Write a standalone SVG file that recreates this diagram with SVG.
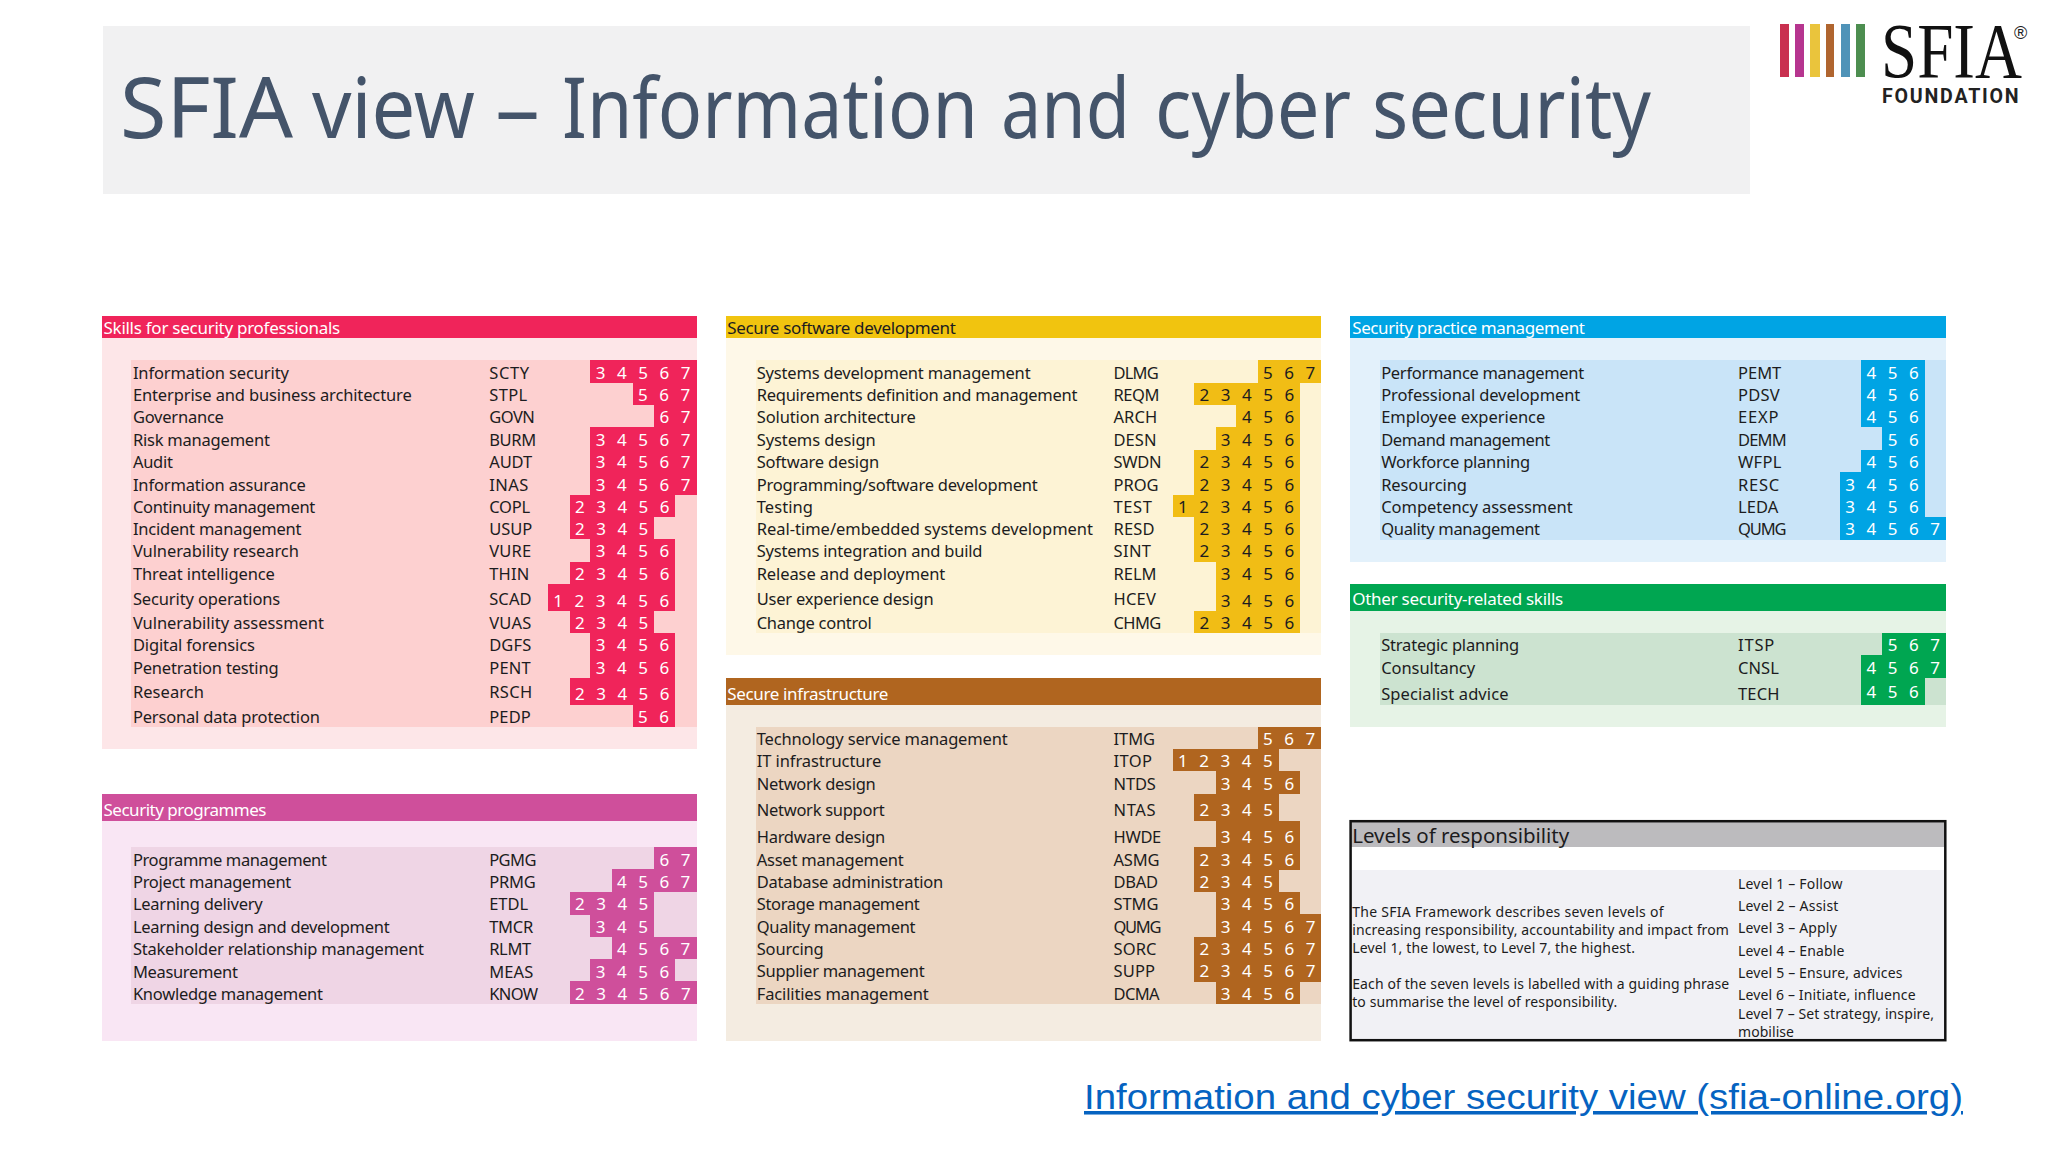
<svg xmlns="http://www.w3.org/2000/svg" width="2048" height="1152" viewBox="0 0 2048 1152">
<style>
text{font-family:"Noto Sans","Liberation Sans",sans-serif;fill:#1c1c20;font-size:16.5px}
.h{font-size:17px;fill:#fff}
.hd{font-size:17px;fill:#1c1c20}
.d{font-size:17px;fill:#fff;word-spacing:7.1px}
.dd{font-size:17px;fill:#1c1c20;word-spacing:7.1px}
.s{font-size:14px}
rect{shape-rendering:crispEdges}
.r1{fill:#f0245a}.b1{fill:#fde6e8}.m1{fill:#fdd0d0}
.r2{fill:#cf4f9b}.b2{fill:#f9e6f4}.m2{fill:#efd5e5}
.r3{fill:#f1c40f}.b3{fill:#fef8e8}.m3{fill:#fdf3d5}.c3{fill:#f1bd15}
.r4{fill:#b0651f}.b4{fill:#f4ece1}.m4{fill:#ecd6c2}
.r5{fill:#00a4e4}.b5{fill:#e3f1fb}.m5{fill:#c9e4f8}
.r6{fill:#00a651}.b6{fill:#e6f3e6}.m6{fill:#cce3d0}
</style>
<rect width="2048" height="1152" fill="#fff"/>
<g id="title">
<rect x="102.5" y="26" width="1647" height="167.5" fill="#f1f1f2"/>
<text y="138" lengthAdjust="spacingAndGlyphs" style="font-size:84px;fill:#44546a"><tspan x="120" textLength="173" lengthAdjust="spacingAndGlyphs">SFIA</tspan> <tspan x="312" textLength="163" lengthAdjust="spacingAndGlyphs">view</tspan> <tspan x="495" textLength="45" lengthAdjust="spacingAndGlyphs">–</tspan> <tspan x="562" textLength="416" lengthAdjust="spacingAndGlyphs">Information</tspan> <tspan x="1001" textLength="129" lengthAdjust="spacingAndGlyphs">and</tspan> <tspan x="1155" textLength="196" lengthAdjust="spacingAndGlyphs">cyber</tspan> <tspan x="1372" textLength="279" lengthAdjust="spacingAndGlyphs">security</tspan></text>
</g>
<g id="logo">
<rect x="1780" y="24" width="8.6" height="53.3" fill="#c9304f"/>
<rect x="1795" y="24" width="8.7" height="53.3" fill="#b6358f"/>
<rect x="1810" y="24" width="9.5" height="53.3" fill="#eac43c"/>
<rect x="1826" y="24" width="8.4" height="53.3" fill="#b0652f"/>
<rect x="1841" y="24" width="8.5" height="53.3" fill="#4f93b8"/>
<rect x="1856" y="24" width="8.5" height="53.3" fill="#4d8e50"/>
<text x="1881" y="76.7" textLength="141" lengthAdjust="spacingAndGlyphs" style="font-family:'Liberation Serif',serif;font-size:78px;fill:#111">SFIA</text>
<text x="2014" y="39" style="font-family:'Liberation Sans',sans-serif;font-size:18px;fill:#222">®</text>
<text x="1882" y="103.3" textLength="136.7" style="font-family:'Roboto',sans-serif;font-weight:bold;font-size:19.6px;fill:#222">FOUNDATION</text>
</g>

<g id="skills-for-security-professionals">
<rect class="b1" x="101.8" y="315.7" width="594.7" height="433.3"/>
<rect class="r1" x="101.8" y="315.7" width="594.7" height="22.3"/>
<text class="h" x="103.5" y="334" textLength="236.7">Skills for security professionals</text>
<rect class="m1" x="131" y="360.3" width="565.5" height="366.4"/>
<g class="r1">
<rect x="590.4" y="360.3" width="106.1" height="22.4"/><rect x="632.9" y="382.7" width="63.6" height="22.3"/><rect x="654" y="405" width="42.5" height="22.3"/><rect x="590.4" y="427.3" width="106.1" height="67.4"/>
<rect x="569.6" y="494.7" width="105.7" height="22.3"/><rect x="569.6" y="517" width="84.4" height="22.3"/><rect x="590.4" y="539.3" width="84.9" height="22.4"/><rect x="569.6" y="561.7" width="105.7" height="22.3"/><rect x="548" y="584" width="127.3" height="26.7"/><rect x="569.6" y="610.7" width="84.4" height="22.6"/><rect x="590.4" y="633.3" width="84.9" height="44.7"/><rect x="569.6" y="678" width="105.7" height="26.7"/><rect x="632.9" y="704.7" width="42.4" height="22"/>
</g>
<text x="132.9" y="379" textLength="156">Information security</text><text x="489.2" y="379" textLength="40">SCTY</text><text class="d" x="595.7" y="379">3 4 5 6 7</text>
<text x="132.9" y="401" textLength="278.8">Enterprise and business architecture</text><text x="489.2" y="401" textLength="38">STPL</text><text class="d" x="638.1" y="401">5 6 7</text>
<text x="132.9" y="423.3" textLength="91">Governance</text><text x="489.2" y="423.3" textLength="45.7">GOVN</text><text class="d" x="659.4" y="423.3">6 7</text>
<text x="132.9" y="445.7" textLength="137">Risk management</text><text x="489.2" y="445.7" textLength="47">BURM</text><text class="d" x="595.7" y="445.7">3 4 5 6 7</text>
<text x="132.9" y="468.3" textLength="40">Audit</text><text x="489.2" y="468.3" textLength="43">AUDT</text><text class="d" x="595.7" y="468.3">3 4 5 6 7</text>
<text x="132.9" y="490.7" textLength="173">Information assurance</text><text x="489.2" y="490.7" textLength="39">INAS</text><text class="d" x="595.7" y="490.7">3 4 5 6 7</text>
<text x="132.9" y="513" textLength="182.4">Continuity management</text><text x="489.2" y="513" textLength="41">COPL</text><text class="d" x="574.9" y="513">2 3 4 5 6</text>
<text x="132.9" y="535" textLength="168.6">Incident management</text><text x="489.2" y="535" textLength="43">USUP</text><text class="d" x="574.9" y="535">2 3 4 5</text>
<text x="132.9" y="557.3" textLength="166">Vulnerability research</text><text x="489.2" y="557.3" textLength="42">VURE</text><text class="d" x="595.7" y="557.3">3 4 5 6</text>
<text x="132.9" y="580" textLength="142">Threat intelligence</text><text x="489.2" y="580" textLength="40">THIN</text><text class="d" x="574.9" y="580">2 3 4 5 6</text>
<text x="132.9" y="604.7" textLength="147.3">Security operations</text><text x="489.2" y="604.7" textLength="42.4">SCAD</text><text class="d" x="553.3" y="606.7">1 2 3 4 5 6</text>
<text x="132.9" y="629.3" textLength="191">Vulnerability assessment</text><text x="489.2" y="629.3" textLength="42">VUAS</text><text class="d" x="574.9" y="629.3">2 3 4 5</text>
<text x="132.9" y="651.3" textLength="122">Digital forensics</text><text x="489.2" y="651.3" textLength="42">DGFS</text><text class="d" x="595.7" y="651.3">3 4 5 6</text>
<text x="132.9" y="673.7" textLength="145.7">Penetration testing</text><text x="489.2" y="673.7" textLength="41.6">PENT</text><text class="d" x="595.7" y="673.7">3 4 5 6</text>
<text x="132.9" y="698.3" textLength="71">Research</text><text x="489.2" y="698.3" textLength="43">RSCH</text><text class="d" x="574.9" y="700.3">2 3 4 5 6</text>
<text x="132.9" y="723" textLength="187">Personal data protection</text><text x="489.2" y="723" textLength="41.6">PEDP</text><text class="d" x="638.1" y="723">5 6</text>
</g>

<g id="security-programmes">
<rect class="b2" x="101.8" y="794" width="594.7" height="247"/>
<rect class="r2" x="101.8" y="794" width="594.7" height="26.7"/>
<text class="h" x="103.5" y="816" textLength="163">Security programmes</text>
<rect class="m2" x="131" y="847" width="565.5" height="156.7"/>
<g class="r2">
<rect x="654" y="847" width="42.5" height="22.3"/><rect x="612" y="869.3" width="84.5" height="22.7"/><rect x="569.6" y="892" width="84.4" height="22.7"/><rect x="590.4" y="914.7" width="63.6" height="22.6"/><rect x="612" y="937.3" width="84.5" height="22"/><rect x="590.4" y="959.3" width="84.9" height="22"/><rect x="569.6" y="981.3" width="126.9" height="22.4"/>
</g>
<text x="132.9" y="866" textLength="194">Programme management</text><text x="489.2" y="866" textLength="47.3">PGMG</text><text class="d" x="659.4" y="866">6 7</text>
<text x="132.9" y="888" textLength="158.4">Project management</text><text x="489.2" y="888" textLength="46.5">PRMG</text><text class="d" x="616.9" y="888">4 5 6 7</text>
<text x="132.9" y="910.3" textLength="129.8">Learning delivery</text><text x="489.2" y="910.3" textLength="39">ETDL</text><text class="d" x="574.9" y="910.3">2 3 4 5</text>
<text x="132.9" y="932.7" textLength="256.7">Learning design and development</text><text x="489.2" y="932.7" textLength="44">TMCR</text><text class="d" x="595.7" y="932.7">3 4 5</text>
<text x="132.9" y="955" textLength="291">Stakeholder relationship management</text><text x="489.2" y="955" textLength="42">RLMT</text><text class="d" x="616.9" y="955">4 5 6 7</text>
<text x="132.9" y="977.7" textLength="105">Measurement</text><text x="489.2" y="977.7" textLength="44">MEAS</text><text class="d" x="595.7" y="977.7">3 4 5 6</text>
<text x="132.9" y="999.7" textLength="190">Knowledge management</text><text x="489.2" y="999.7" textLength="49">KNOW</text><text class="d" x="574.9" y="999.7">2 3 4 5 6 7</text>
</g>

<g id="secure-software-development">
<rect class="b3" x="726" y="315.7" width="594.8" height="339.3"/>
<rect class="r3" x="726" y="315.7" width="594.8" height="22.3"/>
<text class="hd" x="727.3" y="334" textLength="228.6">Secure software development</text>
<rect class="m3" x="755.5" y="360.3" width="565.3" height="273"/>
<g class="c3">
<rect x="1258" y="360.3" width="62.8" height="22.4"/><rect x="1193.9" y="382.7" width="106.1" height="22.3"/><rect x="1236.3" y="405" width="63.7" height="22.3"/><rect x="1215.5" y="427.3" width="84.5" height="22.7"/><rect x="1193.9" y="450" width="106.1" height="44.7"/><rect x="1172.7" y="494.7" width="127.3" height="22.3"/><rect x="1193.9" y="517" width="106.1" height="44.7"/><rect x="1215.5" y="561.7" width="84.5" height="49"/><rect x="1193.9" y="610.7" width="106.1" height="22.6"/>
</g>
<text x="756.7" y="379" textLength="273.9">Systems development management</text><text x="1113.5" y="379" textLength="45.3">DLMG</text><text class="dd" x="1262.9" y="379">5 6 7</text>
<text x="756.7" y="401" textLength="320.8">Requirements definition and management</text><text x="1113.5" y="401" textLength="46">REQM</text><text class="dd" x="1199.6" y="401">2 3 4 5 6</text>
<text x="756.7" y="423.3" textLength="159">Solution architecture</text><text x="1113.5" y="423.3" textLength="43.7">ARCH</text><text class="dd" x="1242.1" y="423.3">4 5 6</text>
<text x="756.7" y="445.7" textLength="119">Systems design</text><text x="1113.5" y="445.7" textLength="43">DESN</text><text class="dd" x="1220.8" y="445.7">3 4 5 6</text>
<text x="756.7" y="468.3" textLength="122.4">Software design</text><text x="1113.5" y="468.3" textLength="48">SWDN</text><text class="dd" x="1199.6" y="468.3">2 3 4 5 6</text>
<text x="756.7" y="490.7" textLength="281">Programming/software development</text><text x="1113.5" y="490.7" textLength="45">PROG</text><text class="dd" x="1199.6" y="490.7">2 3 4 5 6</text>
<text x="756.7" y="513" textLength="56.3">Testing</text><text x="1113.5" y="513" textLength="38.4">TEST</text><text class="dd" x="1178" y="513">1 2 3 4 5 6</text>
<text x="756.7" y="535" textLength="336.3">Real-time/embedded systems development</text><text x="1113.5" y="535" textLength="41">RESD</text><text class="dd" x="1199.6" y="535">2 3 4 5 6</text>
<text x="756.7" y="557.3" textLength="225.7">Systems integration and build</text><text x="1113.5" y="557.3" textLength="37.5">SINT</text><text class="dd" x="1199.6" y="557.3">2 3 4 5 6</text>
<text x="756.7" y="580" textLength="188.6">Release and deployment</text><text x="1113.5" y="580" textLength="43">RELM</text><text class="dd" x="1220.8" y="580">3 4 5 6</text>
<text x="756.7" y="604.7" textLength="177">User experience design</text><text x="1113.5" y="604.7" textLength="42.4">HCEV</text><text class="dd" x="1220.8" y="606.7">3 4 5 6</text>
<text x="756.7" y="629.3" textLength="115">Change control</text><text x="1113.5" y="629.3" textLength="47.8">CHMG</text><text class="dd" x="1199.6" y="629.3">2 3 4 5 6</text>
</g>

<g id="secure-infrastructure">
<rect class="b4" x="726" y="678" width="594.8" height="363"/>
<rect class="r4" x="726" y="678" width="594.8" height="26.7"/>
<text class="h" x="727.3" y="700" textLength="161">Secure infrastructure</text>
<rect class="m4" x="755.5" y="727" width="565.3" height="276.7"/>
<g class="r4">
<rect x="1258" y="727" width="62.8" height="22"/><rect x="1172.7" y="749" width="106.1" height="22.3"/><rect x="1215.5" y="771.3" width="84.5" height="22.7"/><rect x="1193.9" y="794" width="84.9" height="27"/><rect x="1215.5" y="821" width="84.5" height="26.3"/><rect x="1193.9" y="847.3" width="106.1" height="22.4"/><rect x="1193.9" y="869.7" width="84.9" height="22.3"/><rect x="1215.5" y="892" width="84.5" height="22.3"/><rect x="1215.5" y="914.3" width="105.3" height="22.4"/><rect x="1193.9" y="936.7" width="126.9" height="45"/><rect x="1215.5" y="981.7" width="84.5" height="22"/>
</g>
<text x="756.7" y="745" textLength="251">Technology service management</text><text x="1113.5" y="745" textLength="41.6">ITMG</text><text class="d" x="1262.9" y="745">5 6 7</text>
<text x="756.7" y="767.3" textLength="124.5">IT infrastructure</text><text x="1113.5" y="767.3" textLength="38.4">ITOP</text><text class="d" x="1178" y="767.3">1 2 3 4 5</text>
<text x="756.7" y="790" textLength="119">Network design</text><text x="1113.5" y="790" textLength="42.4">NTDS</text><text class="d" x="1220.8" y="790">3 4 5 6</text>
<text x="756.7" y="816.3" textLength="128">Network support</text><text x="1113.5" y="816.3" textLength="42">NTAS</text><text class="d" x="1199.6" y="816.3">2 3 4 5</text>
<text x="756.7" y="843.3" textLength="128.6">Hardware design</text><text x="1113.5" y="843.3" textLength="47.8">HWDE</text><text class="d" x="1220.8" y="843.3">3 4 5 6</text>
<text x="756.7" y="865.7" textLength="147">Asset management</text><text x="1113.5" y="865.7" textLength="46">ASMG</text><text class="d" x="1199.6" y="865.7">2 3 4 5 6</text>
<text x="756.7" y="888" textLength="186.5">Database administration</text><text x="1113.5" y="888" textLength="44.5">DBAD</text><text class="d" x="1199.6" y="888">2 3 4 5</text>
<text x="756.7" y="910.3" textLength="163">Storage management</text><text x="1113.5" y="910.3" textLength="45">STMG</text><text class="d" x="1220.8" y="910.3">3 4 5 6</text>
<text x="756.7" y="932.7" textLength="158.8">Quality management</text><text x="1113.5" y="932.7" textLength="48">QUMG</text><text class="d" x="1220.8" y="932.7">3 4 5 6 7</text>
<text x="756.7" y="955" textLength="67">Sourcing</text><text x="1113.5" y="955" textLength="43">SORC</text><text class="d" x="1199.6" y="955">2 3 4 5 6 7</text>
<text x="756.7" y="977.3" textLength="168">Supplier management</text><text x="1113.5" y="977.3" textLength="41.6">SUPP</text><text class="d" x="1199.6" y="977.3">2 3 4 5 6 7</text>
<text x="756.7" y="999.7" textLength="172">Facilities management</text><text x="1113.5" y="999.7" textLength="46">DCMA</text><text class="d" x="1220.8" y="999.7">3 4 5 6</text>
</g>

<g id="security-practice-management">
<rect class="b5" x="1350.2" y="315.7" width="595.5" height="246"/>
<rect class="r5" x="1350.2" y="315.7" width="595.5" height="22.3"/>
<text class="h" x="1352.2" y="334" textLength="232.7">Security practice management</text>
<rect class="m5" x="1380" y="360.3" width="565.7" height="179.4"/>
<g class="r5">
<rect x="1860.8" y="360.3" width="63.7" height="67"/><rect x="1882" y="427.3" width="42.5" height="22.7"/><rect x="1860.8" y="450" width="63.7" height="22.3"/><rect x="1839.6" y="472.3" width="84.9" height="44.7"/><rect x="1839.6" y="517" width="106.1" height="22.7"/>
</g>
<text x="1381.2" y="378.5" textLength="203">Performance management</text><text x="1738" y="378.5" textLength="43.3">PEMT</text><text class="d" x="1866.5" y="378.5">4 5 6</text>
<text x="1381.2" y="401" textLength="199">Professional development</text><text x="1738" y="401" textLength="41.6">PDSV</text><text class="d" x="1866.5" y="401">4 5 6</text>
<text x="1381.2" y="423.3" textLength="164">Employee experience</text><text x="1738" y="423.3" textLength="40.4">EEXP</text><text class="d" x="1866.5" y="423.3">4 5 6</text>
<text x="1381.2" y="445.7" textLength="169">Demand management</text><text x="1738" y="445.7" textLength="48.6">DEMM</text><text class="d" x="1887.8" y="445.7">5 6</text>
<text x="1381.2" y="468.3" textLength="149">Workforce planning</text><text x="1738" y="468.3" textLength="43.3">WFPL</text><text class="d" x="1866.5" y="468.3">4 5 6</text>
<text x="1381.2" y="490.7" textLength="85.7">Resourcing</text><text x="1738" y="490.7" textLength="41.2">RESC</text><text class="d" x="1845.3" y="490.7">3 4 5 6</text>
<text x="1381.2" y="512.7" textLength="191.4">Competency assessment</text><text x="1738" y="512.7" textLength="40.4">LEDA</text><text class="d" x="1845.3" y="512.7">3 4 5 6</text>
<text x="1381.2" y="535" textLength="158.8">Quality management</text><text x="1738" y="535" textLength="48.6">QUMG</text><text class="d" x="1845.3" y="535">3 4 5 6 7</text>
</g>

<g id="other-security-related-skills">
<rect class="b6" x="1350.2" y="584" width="595.5" height="143"/>
<rect class="r6" x="1350.2" y="584" width="595.5" height="26.7"/>
<text class="h" x="1352.2" y="604.7" textLength="211">Other security-related skills</text>
<rect class="m6" x="1380" y="633" width="565.7" height="72"/>
<g class="r6">
<rect x="1882" y="633" width="63.7" height="22.3"/><rect x="1860.8" y="655.3" width="84.9" height="22.4"/><rect x="1860.8" y="677.7" width="63.7" height="27.3"/>
</g>
<text x="1381.2" y="651.3" textLength="138">Strategic planning</text><text x="1738" y="651.3" textLength="36.3">ITSP</text><text class="d" x="1887.8" y="651.3">5 6 7</text>
<text x="1381.2" y="673.7" textLength="93.9">Consultancy</text><text x="1738" y="673.7" textLength="40.8">CNSL</text><text class="d" x="1866.5" y="673.7">4 5 6 7</text>
<text x="1381.2" y="700" textLength="127.3">Specialist advice</text><text x="1738" y="700" textLength="41.6">TECH</text><text class="d" x="1866.5" y="698.3">4 5 6</text>
</g>

<g id="levels-of-responsibility">
<rect x="1350.6" y="821.2" width="594.7" height="219" fill="#fff"/>
<rect x="1350.6" y="821.2" width="594.7" height="26.1" fill="#bcbbbe"/>
<rect x="1350.6" y="870" width="594.7" height="170.2" fill="#f1f1f5"/>
<rect x="1350.6" y="821.2" width="594.7" height="219" fill="none" stroke="#111" stroke-width="2.5" style="shape-rendering:auto"/>
<text x="1352.2" y="842.7" textLength="217" style="font-size:20.5px">Levels of responsibility</text>
<text class="s" x="1352.2" y="916.7" textLength="311.4">The SFIA Framework describes seven levels of</text>
<text class="s" x="1352.2" y="934.7" textLength="376.7">increasing responsibility, accountability and impact from</text>
<text class="s" x="1352.2" y="952.7" textLength="282.9">Level 1, the lowest, to Level 7, the highest.</text>
<text class="s" x="1352.2" y="988.7" textLength="377">Each of the seven levels is labelled with a guiding phrase</text>
<text class="s" x="1352.2" y="1006.7" textLength="265">to summarise the level of responsibility.</text>
<text class="s" x="1738" y="888.7" textLength="104.5">Level 1 – Follow</text>
<text class="s" x="1738" y="911" textLength="100.4">Level 2 – Assist</text>
<text class="s" x="1738" y="933.3" textLength="98.8">Level 3 – Apply</text>
<text class="s" x="1738" y="955.7" textLength="106.5">Level 4 – Enable</text>
<text class="s" x="1738" y="978" textLength="164.5">Level 5 – Ensure, advices</text>
<text class="s" x="1738" y="1000.3" textLength="177.6">Level 6 – Initiate, influence</text>
<text class="s" x="1738" y="1019.3" textLength="196">Level 7 – Set strategy, inspire,</text>
<text class="s" x="1738" y="1037.3" textLength="56">mobilise</text>
</g>

<g id="link">
<text x="1084" y="1109" textLength="879" lengthAdjust="spacingAndGlyphs" text-decoration="underline" style="font-family:'Liberation Sans',Arial,sans-serif;font-size:35.3px;fill:#0563c1">Information and cyber security view (sfia-online.org)</text>
</g>
</svg>
